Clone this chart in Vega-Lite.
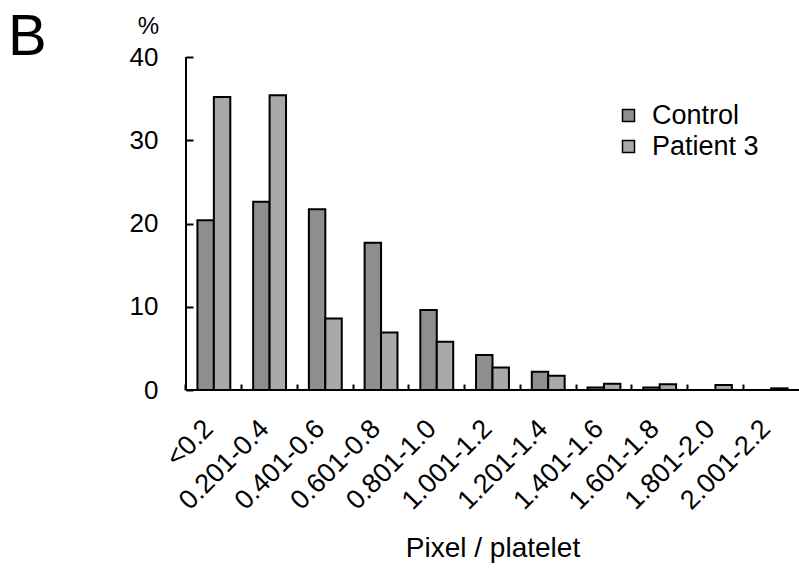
{
  "$schema": "https://vega.github.io/schema/vega-lite/v6.json",
  "width": 613,
  "height": 333,
  "autosize": {"type": "none"},
  "padding": {"left": 186, "top": 57, "right": 0, "bottom": 181},
  "background": "white",
  "title": {"text": "B", "anchor": "start", "frame": "group", "fontSize": 58, "fontWeight": "normal", "font": "Liberation Sans", "color": "black", "dx": -178, "dy": 53, "offset": 0},
  "data": {"values": [
    {"bin": "<0.2", "group": "Control", "pct": 20.4},
    {"bin": "<0.2", "group": "Patient 3", "pct": 35.2},
    {"bin": "0.201-0.4", "group": "Control", "pct": 22.6},
    {"bin": "0.201-0.4", "group": "Patient 3", "pct": 35.4},
    {"bin": "0.401-0.6", "group": "Control", "pct": 21.7},
    {"bin": "0.401-0.6", "group": "Patient 3", "pct": 8.6},
    {"bin": "0.601-0.8", "group": "Control", "pct": 17.7},
    {"bin": "0.601-0.8", "group": "Patient 3", "pct": 6.9},
    {"bin": "0.801-1.0", "group": "Control", "pct": 9.6},
    {"bin": "0.801-1.0", "group": "Patient 3", "pct": 5.8},
    {"bin": "1.001-1.2", "group": "Control", "pct": 4.2},
    {"bin": "1.001-1.2", "group": "Patient 3", "pct": 2.7},
    {"bin": "1.201-1.4", "group": "Control", "pct": 2.2},
    {"bin": "1.201-1.4", "group": "Patient 3", "pct": 1.7},
    {"bin": "1.401-1.6", "group": "Control", "pct": 0.3},
    {"bin": "1.401-1.6", "group": "Patient 3", "pct": 0.76},
    {"bin": "1.601-1.8", "group": "Control", "pct": 0.3},
    {"bin": "1.601-1.8", "group": "Patient 3", "pct": 0.7},
    {"bin": "1.801-2.0", "group": "Control", "pct": 0},
    {"bin": "1.801-2.0", "group": "Patient 3", "pct": 0.6},
    {"bin": "2.001-2.2", "group": "Control", "pct": 0},
    {"bin": "2.001-2.2", "group": "Patient 3", "pct": 0.2}
  ]},
  "layer": [
    {
      "mark": {"type": "bar", "stroke": "black", "strokeWidth": 2},
      "encoding": {
        "x": {
          "field": "bin", "type": "nominal", "sort": null,
          "scale": {"paddingInner": 0.41, "paddingOuter": 0.205},
          "axis": {
            "orient": "bottom", "offset": -6, "domain": false, "tickSize": 6, "bandPosition": -0.3475,
            "title": "Pixel / platelet", "titleFontSize": 28, "titleFontWeight": "normal", "titlePadding": 20,
            "labelAngle": -45, "labelFontSize": 27, "labelOffset": -14, "labelPadding": 25
          }
        },
        "xOffset": {"field": "group", "type": "nominal", "sort": ["Control", "Patient 3"]},
        "y": {
          "field": "pct", "type": "quantitative", "scale": {"domain": [0, 40]},
          "axis": {
            "orient": "left", "offset": -7, "domain": false, "tickSize": 7,
            "values": [0, 10, 20, 30, 40], "grid": false, "labelFontSize": 26, "labelPadding": 28,
            "title": "%", "titleAngle": 0, "titleFontSize": 24, "titleFontWeight": "normal",
            "titleX": -45, "titleY": -24, "titleAlign": "center", "titleBaseline": "alphabetic"
          }
        },
        "color": {
          "field": "group", "type": "nominal", "sort": ["Control", "Patient 3"],
          "scale": {"range": ["#8e8e8e", "#a9a9a9"]},
          "legend": {
            "title": null, "orient": "none", "legendX": 429, "legendY": 45,
            "symbolType": "square", "symbolSize": 144, "symbolStrokeColor": "black", "symbolStrokeWidth": 1.5,
            "labelFontSize": 27, "labelOffset": 10, "rowPadding": 3
          }
        }
      }
    },
    {
      "mark": {"type": "rule", "color": "black", "strokeWidth": 2},
      "encoding": {"y": {"datum": 0}}
    },
    {
      "mark": {"type": "rule", "color": "black", "strokeWidth": 2},
      "encoding": {"x": {"value": 0}}
    }
  ],
  "config": {
    "font": "Liberation Sans",
    "view": {"stroke": null},
    "axis": {
      "domainColor": "black", "domainWidth": 2, "tickColor": "black", "tickWidth": 2,
      "labelColor": "black", "titleColor": "black", "labelFont": "Liberation Sans", "titleFont": "Liberation Sans"
    },
    "legend": {"labelColor": "black", "labelFont": "Liberation Sans"}
  }
}
